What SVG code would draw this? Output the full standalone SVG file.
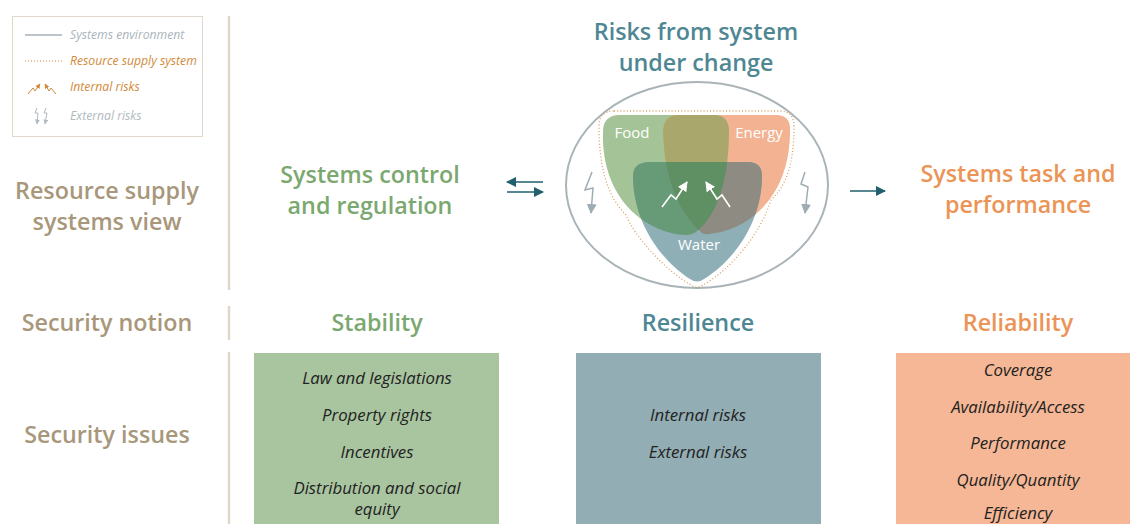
<svg xmlns="http://www.w3.org/2000/svg" width="1130" height="524" viewBox="0 0 1130 524">
<defs>
<style>
.h{font-family:"Open Sans","Noto Sans",sans-serif;font-weight:600;font-size:23.3px;text-anchor:middle}
.side{fill:#a8977a}
.grn{fill:#7ba86f}
.tea{fill:#4e8793}
.org{fill:#eb9456}
.it{font-family:"Open Sans","Noto Sans",sans-serif;font-style:italic;font-size:16.8px;fill:#222;text-anchor:middle}
.lg{font-family:"Open Sans","Noto Sans",sans-serif;font-style:italic;font-size:12.2px}
.lbl{font-family:"Open Sans","Noto Sans",sans-serif;font-size:15px;fill:#fff;text-anchor:middle}
.sep{stroke:#e2d6ca;stroke-width:2.5}
</style>
<marker id="mT" viewBox="0 0 10 10" refX="9" refY="5" markerWidth="10" markerHeight="10" markerUnits="userSpaceOnUse" orient="auto"><path d="M0,0 L10,5 L0,10 Z" fill="#1f5f6e"/></marker>
<marker id="mW" viewBox="0 0 10 10" refX="9" refY="5" markerWidth="10" markerHeight="10" markerUnits="userSpaceOnUse" orient="auto"><path d="M0,0 L10,5 L0,10 Z" fill="#fff"/></marker>
<marker id="mG" viewBox="0 0 10 10" refX="9" refY="5" markerWidth="10" markerHeight="10" markerUnits="userSpaceOnUse" orient="auto"><path d="M0,0 L10,5 L0,10 Z" fill="#9eadb3"/></marker>
<marker id="mO" viewBox="0 0 10 10" refX="9" refY="5" markerWidth="5" markerHeight="5" markerUnits="userSpaceOnUse" orient="auto"><path d="M0,0 L10,5 L0,10 Z" fill="#d28a3a"/></marker>
<marker id="mGs" viewBox="0 0 10 10" refX="9" refY="5" markerWidth="5" markerHeight="5" markerUnits="userSpaceOnUse" orient="auto"><path d="M0,0 L10,5 L0,10 Z" fill="#b0babe"/></marker>
<path id="pFood" d="M620,115 L714,115 Q729,115 729,131 C729,172 720,214 696,232 Q692,235 686,235 C645,233 601,198 603,132 Q603,115 620,115 Z"/>
<path id="pEnergy" d="M679,115 L776,115 Q791,115 790,131 C790,198 748,230 709,234 Q703,235 700,231 C680,213 664,180 663,132 Q663,115 679,115 Z"/>
<path id="pWater" d="M650,162 L748,162 Q762,162 762,176 C762,224 732,262 704,279 Q697,284 690,279 C663,262 633,224 633,176 Q633,162 650,162 Z"/>
<clipPath id="cFood"><use href="#pFood"/></clipPath>
<clipPath id="cWater"><use href="#pWater"/></clipPath>
</defs>
<rect width="1130" height="524" fill="#fff"/>

<g id="legend">
<rect x="12.5" y="16.5" width="190" height="120" fill="#fff" stroke="#e0d8cc"/>
<line x1="25" y1="35" x2="62" y2="35" stroke="#a3b1b8" stroke-width="1.5"/>
<text class="lg" x="70" y="39" fill="#a9b4ba">Systems environment</text>
<line x1="25" y1="61" x2="62" y2="61" stroke="#d28a3a" stroke-width="1.2" stroke-dasharray="1 2"/>
<text class="lg" x="70" y="65" fill="#d28a3a">Resource supply system</text>
<polyline points="28,94 33,88 35,91 40,84" fill="none" stroke="#d28a3a" stroke-width="1" marker-end="url(#mO)"/>
<polyline points="56,94 51,88 49,91 45,84" fill="none" stroke="#d28a3a" stroke-width="1" marker-end="url(#mO)"/>
<text class="lg" x="70" y="91" fill="#d28a3a">Internal risks</text>
<polyline points="37,108 35,113 38,113 37,124" fill="none" stroke="#b0babe" stroke-width="1" marker-end="url(#mGs)"/>
<polyline points="46,108 44,113 47,113 45,124" fill="none" stroke="#b0babe" stroke-width="1" marker-end="url(#mGs)"/>
<text class="lg" x="70" y="120" fill="#b0babe">External risks</text>
</g>

<g id="separators">
<line class="sep" x1="229" y1="16" x2="229" y2="290"/>
<line class="sep" x1="229" y1="306" x2="229" y2="340"/>
<line class="sep" x1="229" y1="352" x2="229" y2="524"/>
</g>

<g id="row-labels">
<text class="h side" x="107" y="199">Resource supply</text>
<text class="h side" x="107" y="230">systems view</text>
<text class="h side" x="107" y="331">Security notion</text>
<text class="h side" x="107" y="443">Security issues</text>
</g>

<g id="control">
<text class="h grn" x="370" y="183">Systems control</text>
<text class="h grn" x="370" y="214">and regulation</text>
</g>

<g id="risks">
<text class="h tea" x="696" y="40">Risks from system</text>
<text class="h tea" x="696" y="71">under change</text>
<ellipse cx="697" cy="185" rx="131" ry="103" fill="none" stroke="#aab4b8" stroke-width="2"/>
<use href="#pFood" fill="#a4c497"/>
<use href="#pEnergy" fill="#f3b392"/>
<g clip-path="url(#cFood)"><use href="#pEnergy" fill="#a9a76b"/></g>
<use href="#pWater" fill="#8fafb7"/>
<g clip-path="url(#cWater)"><use href="#pFood" fill="#679b78"/></g>
<g clip-path="url(#cWater)"><use href="#pEnergy" fill="#8d8b82"/></g>
<g clip-path="url(#cWater)"><g clip-path="url(#cFood)"><use href="#pEnergy" fill="#5f9063"/></g></g>
<path d="M614,111 L780,111 Q794,111 794,126 C794,165 786,186 771,200 C760,235 730,270 703,285 Q697,289 691,285 C662,268 634,235 626,215 C606,195 599,165 599,126 Q599,111 614,111 Z" fill="none" stroke="#d9a060" stroke-width="1.3" stroke-dasharray="1 2.2"/>
<text class="lbl" x="632" y="138">Food</text>
<text class="lbl" x="759" y="138">Energy</text>
<text class="lbl" x="699" y="250">Water</text>
<polyline points="662,207 671,195 676,199 687,182" fill="none" stroke="#fff" stroke-width="1.6" marker-end="url(#mW)"/>
<polyline points="730,207 722,195 717,199 706,182" fill="none" stroke="#fff" stroke-width="1.6" marker-end="url(#mW)"/>
<polyline points="592,172 585,190 593,188 591,213" fill="none" stroke="#9eadb3" stroke-width="1.5" marker-end="url(#mG)"/>
<polyline points="805,172 801,184 808,187 805,213" fill="none" stroke="#9eadb3" stroke-width="1.5" marker-end="url(#mG)"/>
</g>

<g id="task">
<text class="h org" x="1018" y="182">Systems task and</text>
<text class="h org" x="1018" y="213">performance</text>
</g>

<g id="connectors">
<line x1="543" y1="182" x2="507" y2="182" stroke="#1f5f6e" stroke-width="1.5" marker-end="url(#mT)"/>
<line x1="507" y1="192" x2="543" y2="192" stroke="#1f5f6e" stroke-width="1.5" marker-end="url(#mT)"/>
<line x1="850" y1="191" x2="885" y2="191" stroke="#1f5f6e" stroke-width="1.5" marker-end="url(#mT)"/>
</g>

<g id="stability">
<text class="h grn" x="377" y="331">Stability</text>
<rect x="254" y="353" width="245" height="171" fill="#a9c5a0"/>
<text class="it" x="377" y="384">Law and legislations</text>
<text class="it" x="377" y="421">Property rights</text>
<text class="it" x="377" y="458">Incentives</text>
<text class="it" x="377" y="494">Distribution and social</text>
<text class="it" x="377" y="515">equity</text>
</g>

<g id="resilience">
<text class="h tea" x="698" y="331">Resilience</text>
<rect x="576" y="353" width="245" height="171" fill="#92adb3"/>
<text class="it" x="698" y="421">Internal risks</text>
<text class="it" x="698" y="458">External risks</text>
</g>

<g id="reliability">
<text class="h org" x="1018" y="331">Reliability</text>
<rect x="896" y="353" width="234" height="171" fill="#f5b795"/>
<text class="it" x="1018" y="376">Coverage</text>
<text class="it" x="1018" y="413">Availability/Access</text>
<text class="it" x="1018" y="449">Performance</text>
<text class="it" x="1018" y="486">Quality/Quantity</text>
<text class="it" x="1018" y="519">Efficiency</text>
</g>
</svg>
